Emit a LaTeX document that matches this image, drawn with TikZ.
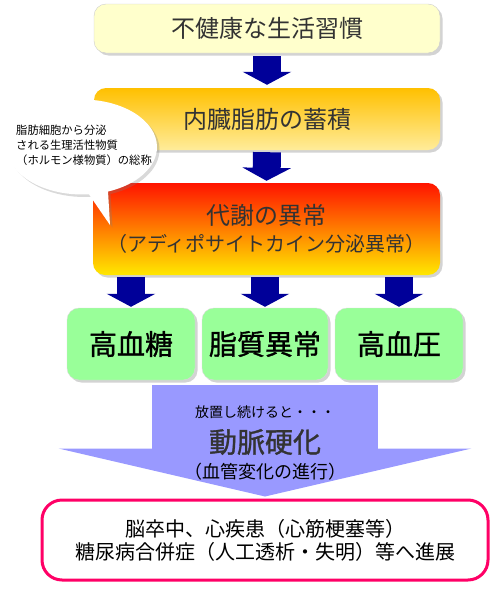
\documentclass[tikz,border=0pt]{standalone}
\usepackage{fontspec}
\setmainfont{Noto Sans CJK JP}
\usetikzlibrary{arrows.meta, positioning, calc, shadows, shapes.callouts}
\definecolor{HabitYellow}{HTML}{FFFFCC}
\definecolor{FatTop}{HTML}{FFC000}
\definecolor{FatBottom}{HTML}{FFEC9A}
\definecolor{MetaTop}{HTML}{FF1400}
\definecolor{MetaBottom}{HTML}{FFE800}
\definecolor{DiseaseGreen}{HTML}{99FF99}
\definecolor{FlowBlue}{HTML}{000099}
\definecolor{SclerosisViolet}{HTML}{9999FF}
\definecolor{ResultCrimson}{HTML}{FF0066}
\definecolor{LabelGray}{HTML}{333333}
\tikzset{
    % Box styles
    stagebox/.style={
        rectangle,
        rounded corners=12pt,
        minimum width=346pt,
        inner sep=0pt,
        text centered,
        text=LabelGray,
        font=\fontsize{24}{28}\selectfont,
        drop shadow={opacity=0.35, shadow xshift=2.5pt, shadow yshift=-2.5pt}
    },
    diseasebox/.style={
        rectangle,
        rounded corners=12pt,
        draw=black!15,
        fill=DiseaseGreen,
        minimum height=72pt,
        inner sep=0pt,
        text centered,
        font=\fontsize{28}{32}\selectfont\addfontfeature{FakeBold=1.2},
        drop shadow={opacity=0.35, shadow xshift=2.5pt, shadow yshift=-2.5pt}
    },
    resultbox/.style={
        rectangle,
        rounded corners=20pt,
        draw=ResultCrimson,
        line width=3pt,
        fill=white,
        minimum width=446pt,
        minimum height=80pt,
        align=center,
        font=\fontsize{20}{23}\selectfont
    },
    notebubble/.style={
        ellipse callout,
        fill=white,
        minimum width=150pt,
        minimum height=95pt,
        inner sep=0pt,
        drop shadow={opacity=0.3, shadow xshift=2.5pt, shadow yshift=-2.5pt}
    },
    notetext/.style={
        align=left,
        inner sep=0pt,
        font=\fontsize{11.3}{15}\selectfont
    },
    % Arrow styles
    flowarrow/.style={
        FlowBlue,
        line width=28pt,
        -{Triangle[width=48pt, length=13pt]}
    },
    bigarrow/.style={
        SclerosisViolet,
        line width=226pt,
        -{Triangle[width=412pt, length=48pt]}
    }
}

\begin{document}
\begin{tikzpicture}[x=1pt, y=-1pt]
    \useasboundingbox (0,0) rectangle (493,589);

    % Stages
    \node[stagebox, fill=HabitYellow, draw=black!20, minimum height=49pt] (habit) at (267,28.5) {不健康な生活習慣};
    \node[stagebox, top color=FatTop, bottom color=FatBottom, minimum height=62pt] (fat) at (267,119) {内臓脂肪の蓄積};
    \node[stagebox, top color=MetaTop, bottom color=MetaBottom, minimum height=92pt, minimum width=347pt,
          align=center] (metab) at (266.5,229)
          {代謝の異常\\[-1pt]{\fontsize{20}{24}\selectfont （アディポサイトカイン分泌異常）}};

    % Diseases
    \node[diseasebox, minimum width=128pt] (glucose) at (131,344) {高血糖};
    \node[diseasebox, minimum width=126pt] (lipid) at (265,344) {脂質異常};
    \node[diseasebox, minimum width=128pt] (pressure) at (399,344) {高血圧};

    % Arrows
    \draw[flowarrow, shorten <=3pt, shorten >=3pt] (habit.south) -- (fat.north);
    \draw[flowarrow, shorten <=2pt, shorten >=2pt] (fat.south) -- (metab.north);
    \draw[flowarrow, shorten <=2pt, shorten >=1pt] (metab.south -| glucose.north) -- (glucose.north);
    \draw[flowarrow, shorten <=2pt, shorten >=1pt] (metab.south -| lipid.north) -- (lipid.north);
    \draw[flowarrow, shorten <=2pt, shorten >=1pt] (metab.south -| pressure.north) -- (pressure.north);

    % Result
    \node[resultbox] (result) at (265,540)
        {脳卒中、心疾患（心筋梗塞等）\\糖尿病合併症（人工透析・失明）等へ進展};
    \draw[bigarrow, shorten <=5pt, shorten >=2pt] (lipid.south) -- (result.north);
    \node[font=\fontsize{28}{32}\selectfont\addfontfeature{FakeBold=1.2}, text=LabelGray] (sclerosis) at (265,442) {動脈硬化};
    \node[font=\fontsize{14}{16}\selectfont, above=3pt of sclerosis] (neglect) {放置し続けると・・・};
    \node[font=\fontsize{18}{20}\selectfont, below=1pt of sclerosis] (vessel) {（血管変化の進行）};

    % Note
    \coordinate (notetip) at (110,225);
    \node[notebubble, callout absolute pointer=(notetip)] (note) at (82,147) {};
    \node[notetext] (notelabel) at (84,145)
        {脂肪細胞から分泌\\される生理活性物質\\（ホルモン様物質）の総称};
\end{tikzpicture}
\end{document}
